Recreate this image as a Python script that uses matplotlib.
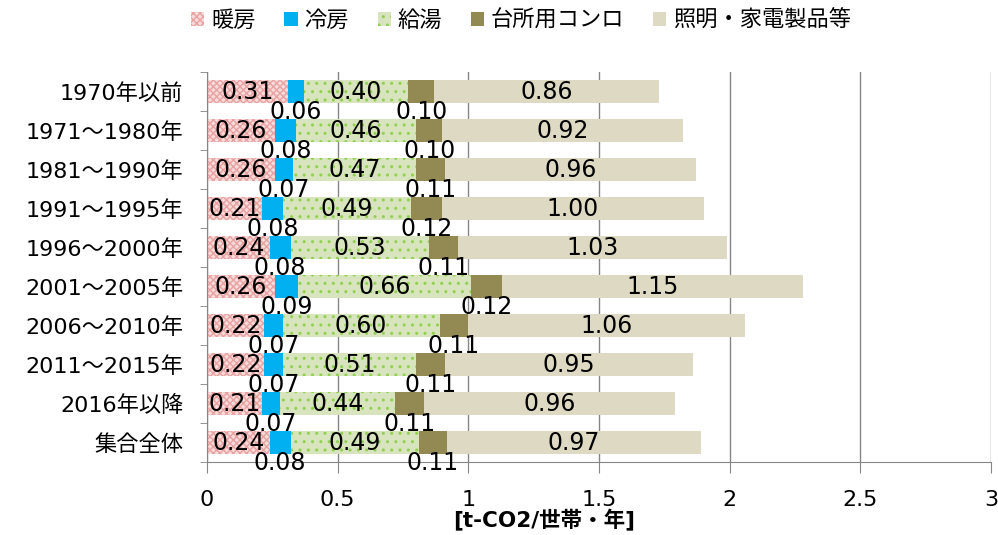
import numpy as np
import matplotlib.pyplot as plt

plt.rcParams['font.family'] = ['DejaVu Sans', 'Noto Sans CJK JP']
plt.rcParams['hatch.linewidth'] = 1.0

categories = ["1970年以前", "1971～1980年", "1981～1990年", "1991～1995年", "1996～2000年",
              "2001～2005年", "2006～2010年", "2011～2015年", "2016年以降", "集合全体"]
series_names = ["暖房", "冷房", "給湯", "台所用コンロ", "照明・家電製品等"]
heating = [0.31, 0.26, 0.26, 0.21, 0.24, 0.26, 0.22, 0.22, 0.21, 0.24]
cooling = [0.06, 0.08, 0.07, 0.08, 0.08, 0.09, 0.07, 0.07, 0.07, 0.08]
hot_water = [0.40, 0.46, 0.47, 0.49, 0.53, 0.66, 0.60, 0.51, 0.44, 0.49]
kitchen = [0.10, 0.10, 0.11, 0.12, 0.11, 0.12, 0.11, 0.11, 0.11, 0.11]
lighting = [0.86, 0.92, 0.96, 1.00, 1.03, 1.15, 1.06, 0.95, 0.96, 0.97]

series = [heating, cooling, hot_water, kitchen, lighting]
faces = ["#f7dada", "#00b0f0", "#d7e4bd", "#938953", "#ddd9c3"]
hatch_cols = ["#e8a2a2", None, "#92d050", None, None]
hatches = ["xxxxx", None, "..", None, None]
label_below = [False, True, False, True, False]

fig = plt.figure(figsize=(9.98, 5.35), dpi=100)
ax = fig.add_axes([0.2074, 0.1364, 0.7856, 0.729])

y = np.arange(len(categories))
left = np.zeros(len(categories))
handles = []
for name, vals, fc, hc, ht, below in zip(series_names, series, faces, hatch_cols, hatches, label_below):
    vals = np.array(vals)
    bars = ax.barh(y, vals, left=left, height=0.6, color=fc,
                   edgecolor=hc if hc else fc, linewidth=0, hatch=ht, label=name, zorder=2)
    handles.append(bars)
    for yi, l, v in zip(y, left, vals):
        dy = 0.53 if below else 0
        ax.text(l + v / 2, yi + dy, f"{v:.2f}", ha="center", va="center", fontsize=17, zorder=3)
    left += vals

ax.set_xlim(0, 3)
ax.set_ylim(len(categories) - 0.5, -0.5)
ax.set_xticks([0, 0.5, 1, 1.5, 2, 2.5, 3])
ax.set_xticklabels(["0", "0.5", "1", "1.5", "2", "2.5", "3"], fontsize=16)
ax.set_yticks(y)
ax.set_yticklabels(categories, fontsize=16)
ax.set_yticks(np.arange(-0.5, len(categories), 1), minor=True)
ax.tick_params(axis="y", which="major", length=0, pad=17)
ax.tick_params(axis="y", which="minor", length=5, color="#868686")
ax.tick_params(axis="x", length=8, color="#868686", pad=12)
ax.grid(axis="x", color="#868686", linewidth=1, zorder=0)
for s in ["top", "right"]:
    ax.spines[s].set_visible(False)
ax.spines["left"].set_color("#868686")
ax.spines["bottom"].set_color("#868686")
ax.set_xlabel("[t-CO2/世帯・年]", fontsize=15.5, fontweight="bold")
ax.xaxis.set_label_coords(0.43, -0.12)

fig.legend(handles=handles, loc="center", bbox_to_anchor=(0.522, 0.962), ncol=5,
           frameon=False, fontsize=16, handlelength=0.59, handleheight=0.59,
           handletextpad=0.3, columnspacing=1.3)

fig.savefig("out.png", dpi=100)
